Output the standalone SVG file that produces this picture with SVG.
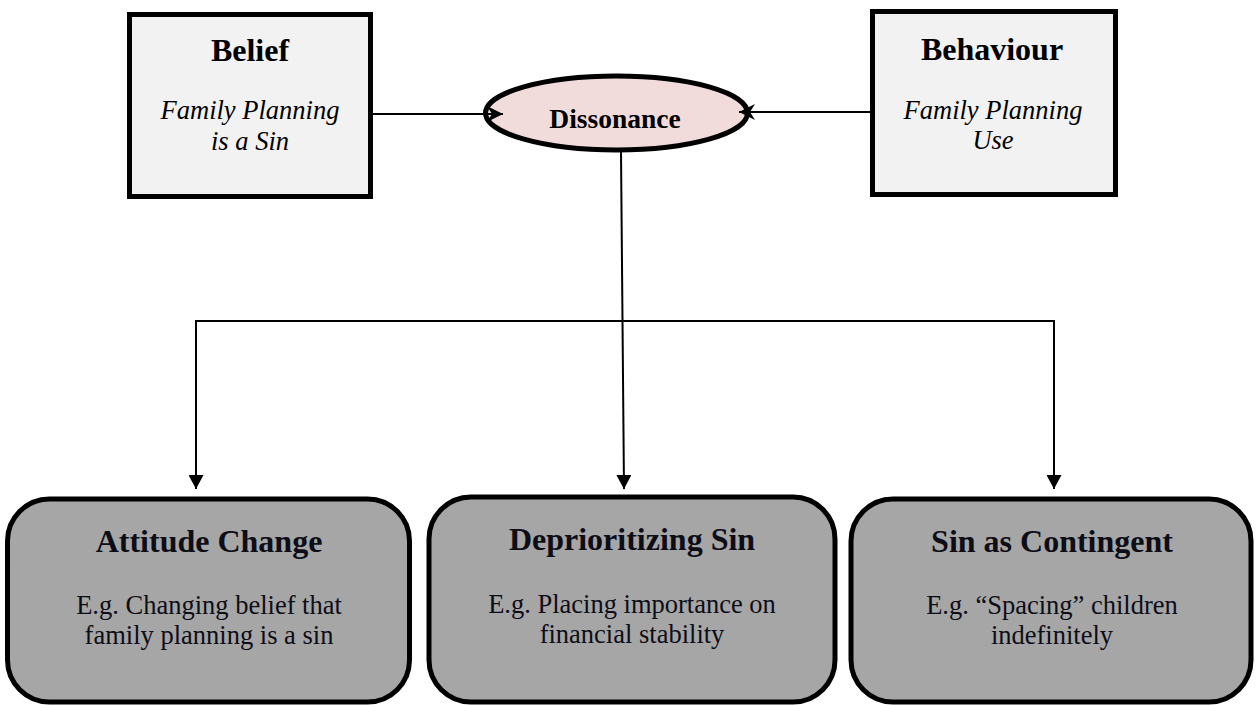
<svg xmlns="http://www.w3.org/2000/svg" width="1257" height="705" viewBox="0 0 1257 705">
<defs>
<style>
.top{fill:#F2F2F2;stroke:#000;stroke-width:5}
.bot{fill:#A6A6A6;stroke:#000;stroke-width:5}
.ell{fill:#F2DCDB;stroke:#000;stroke-width:5}
.conn{stroke:#000;stroke-width:2;fill:none}
.t{font-family:"Liberation Serif","Times New Roman",serif;text-anchor:middle;fill:#000}
.h{font-weight:bold;font-size:32px}
.i{font-style:italic;font-size:26.5px}
.bh{font-weight:bold;font-size:32px;fill:#0D0D18}
.bs{font-size:26.5px;fill:#0D0D18}
</style>
<marker id="stealth" viewBox="0 0 16 16" refX="16" refY="8" markerWidth="16" markerHeight="16" markerUnits="userSpaceOnUse" orient="auto">
<path d="M0,0 L16,8 L0,16 L5,8 Z" fill="#000"/>
</marker>
<marker id="tri" viewBox="0 0 14 15" refX="14" refY="7.5" markerWidth="14" markerHeight="15" markerUnits="userSpaceOnUse" orient="auto">
<path d="M0,0 L14,7.5 L0,15 Z" fill="#000"/>
</marker>
</defs>
<rect width="1257" height="705" fill="#fff"/>
<g id="belief">
<rect class="top" x="129.5" y="14.5" width="241" height="182"/>
<text class="t h" x="250" y="61">Belief</text>
<text class="t i" x="250" y="119">Family Planning</text>
<text class="t i" x="250" y="150">is a Sin</text>
</g>
<g id="behaviour">
<rect class="top" x="872.5" y="11.5" width="243" height="183"/>
<text class="t h" x="992" y="60">Behaviour</text>
<text class="t i" x="993" y="119">Family Planning</text>
<text class="t i" x="993" y="149">Use</text>
</g>
<g id="dissonance">
<ellipse class="ell" cx="616.5" cy="113" rx="131" ry="37"/>
<text class="t" x="615" y="128" style="font-weight:bold;font-size:27.5px">Dissonance</text>
</g>
<g id="attitude-change">
<rect class="bot" x="7.5" y="499" width="402" height="203" rx="42" ry="42"/>
<text class="t bh" x="209" y="552">Attitude Change</text>
<text class="t bs" x="209" y="614">E.g. Changing belief that</text>
<text class="t bs" x="209" y="644">family planning is a sin</text>
</g>
<g id="deprioritizing-sin">
<rect class="bot" x="429" y="497" width="406" height="205" rx="42" ry="42"/>
<text class="t bh" x="632" y="550">Deprioritizing Sin</text>
<text class="t bs" x="632" y="613">E.g. Placing importance on</text>
<text class="t bs" x="632" y="643">financial stability</text>
</g>
<g id="sin-as-contingent">
<rect class="bot" x="851" y="499" width="400" height="203" rx="42" ry="42"/>
<text class="t bh" x="1052" y="552">Sin as Contingent</text>
<text class="t bs" x="1052" y="614">E.g. “Spacing” children</text>
<text class="t bs" x="1052" y="644">indefinitely</text>
</g>
<g id="connectors">
<line class="conn" x1="373" y1="114" x2="503" y2="114" marker-end="url(#stealth)"/>
<line class="conn" x1="870" y1="112" x2="739" y2="112" marker-end="url(#stealth)"/>
<line class="conn" x1="621" y1="152" x2="624" y2="489" marker-end="url(#tri)"/>
<line class="conn" x1="196" y1="321" x2="1054" y2="321"/>
<line class="conn" x1="196" y1="320" x2="196" y2="489" marker-end="url(#tri)"/>
<line class="conn" x1="1054" y1="320" x2="1054" y2="489" marker-end="url(#tri)"/>
</g>
</svg>
